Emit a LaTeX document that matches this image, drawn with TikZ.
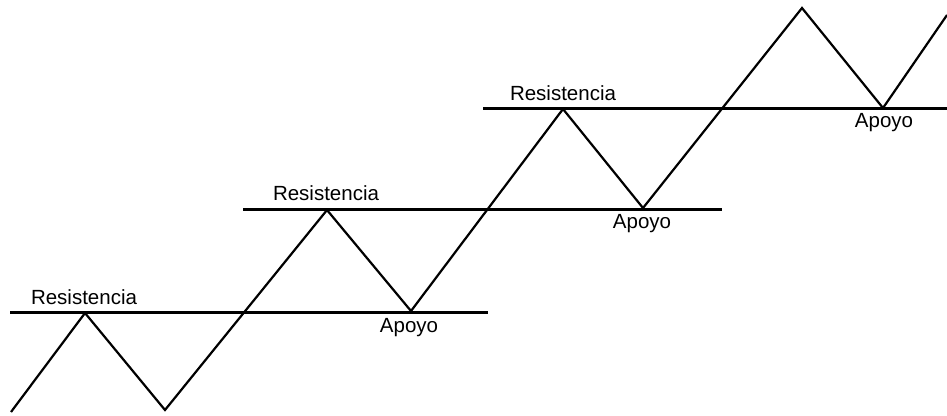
\documentclass[tikz,border=0pt]{standalone}
\usepackage{fontspec}
\setmainfont{Liberation Sans}
\begin{document}
\begin{tikzpicture}[x=1pt,y=-1pt,
  price/.style={line width=2.2pt,line join=miter},
  level/.style={line width=2.2pt},
  lbl/.style={font=\fontsize{20.5}{24}\selectfont,inner sep=0pt}]
\useasboundingbox (0,0) rectangle (947,415);
% price path vertices
\coordinate (p0) at (11,412);
\coordinate (r1) at (85,313);
\coordinate (s1) at (165,410);
\coordinate (r2) at (327,210);
\coordinate (s2) at (411,311);
\coordinate (r3) at (563,109);
\coordinate (s3) at (643,208);
\coordinate (r4) at (802,8);
\coordinate (s4) at (883,108);
\coordinate (p9) at (947,15);
% horizontal levels
\coordinate (l1a) at (10,312.5);  \coordinate (l1b) at (488,312.5);
\coordinate (l2a) at (243,209.5); \coordinate (l2b) at (722,209.5);
\coordinate (l3a) at (483,108.5); \coordinate (l3b) at (947,108.5);
\draw[level] (l1a) -- (l1b);
\draw[level] (l2a) -- (l2b);
\draw[level] (l3a) -- (l3b);
\draw[price] (p0) -- (r1) -- (s1) -- (r2) -- (s2) -- (r3) -- (s3) -- (r4) -- (s4) -- (p9);
% labels
\node[lbl] (t1) at (84,297) {Resistencia};
\node[lbl] (t2) at (326,193) {Resistencia};
\node[lbl] (t3) at (563,93) {Resistencia};
\node[lbl] (a1) at (409,328) {Apoyo};
\node[lbl] (a2) at (642,224) {Apoyo};
\node[lbl] (a3) at (884,123) {Apoyo};
\end{tikzpicture}
\end{document}
